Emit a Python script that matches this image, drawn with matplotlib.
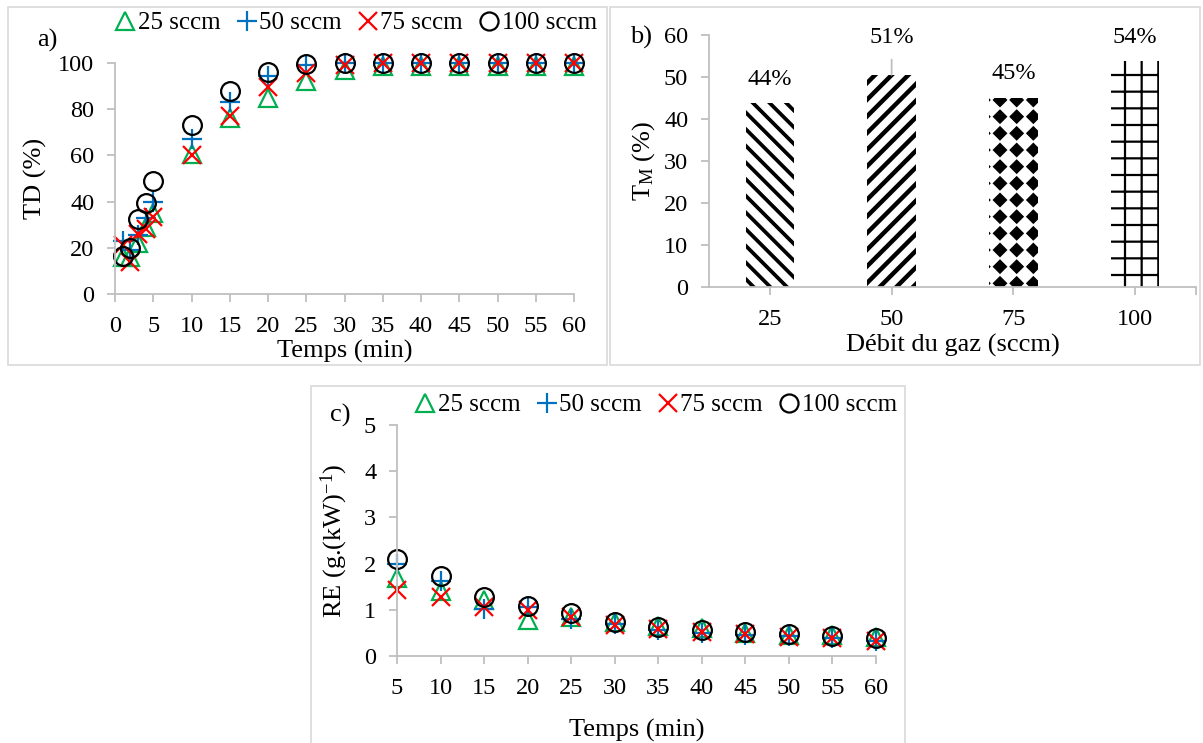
import numpy as np
import matplotlib
matplotlib.use('Agg')
import matplotlib.pyplot as plt
import matplotlib.hatch as mhatch
from matplotlib.path import Path
from matplotlib.patches import Rectangle
from matplotlib.lines import Line2D

plt.rcParams['font.family'] = ['Liberation Serif', 'DejaVu Serif']
plt.rcParams['mathtext.fontset'] = 'custom'
plt.rcParams['mathtext.rm'] = 'Liberation Serif'
plt.rcParams['mathtext.it'] = 'Liberation Serif:italic'
plt.rcParams['hatch.linewidth'] = 3.0

# ---- data ----
t_a = [1, 2, 3, 4, 5, 10, 15, 20, 25, 30, 35, 40, 45, 50, 55, 60]
td_25 = [16, 16, 22, 29, 35, 60.5, 76, 85, 92, 97, 98.5, 98.5, 98.5, 98.5, 98.5, 98.5]
td_50 = [23, 19, 25.5, 33, 40, 67, 83, 94.5, 99, 100, 100, 100, 100, 100, 100, 100]
td_75 = [21, 14, 26, 28, 33.5, 60, 77, 89.5, 95.5, 99, 100, 100, 100, 100, 100, 100]
td_100 = [16.5, 20, 32.5, 39.5, 49, 73, 88, 96, 99.5, 100, 100, 100, 100, 100, 100, 100]

debit = ['25', '50', '75', '100']
tm = [43.8, 50.5, 45.1, 53.8]
tm_labels = ['44%', '51%', '45%', '54%']

t_c = [5, 10, 15, 20, 25, 30, 35, 40, 45, 50, 55, 60]
re_25 = [1.68, 1.4, 1.22, 0.77, 0.85, 0.74, 0.65, 0.6, 0.5, 0.45, 0.45, 0.42]
re_50 = [2.0, 1.62, 1.02, 1.05, 0.8, 0.7, 0.56, 0.5, 0.46, 0.43, 0.38, 0.33]
re_75 = [1.43, 1.27, 1.05, 1.0, 0.84, 0.67, 0.58, 0.52, 0.47, 0.42, 0.38, 0.32]
re_100 = [2.1, 1.74, 1.27, 1.09, 0.92, 0.73, 0.63, 0.56, 0.51, 0.48, 0.43, 0.38]

series_labels = ['25 sccm', '50 sccm', '75 sccm', '100 sccm']


# filled diamonds on a square grid, used in place of the '*' hatch
class DiamondGrid(mhatch.HatchPatternBase):
    def __init__(self, hatch, density):
        self.num_rows = hatch.count('*') * density
        if self.num_rows:
            self.num_vertices = (self.num_rows + 1) ** 2 * 5
        else:
            self.num_vertices = 0

    def set_vertices_and_codes(self, vertices, codes):
        n = self.num_rows
        step = 1.0 / n
        r = step * 0.40
        shape = np.array([[0, r], [r, 0], [0, -r], [-r, 0], [0, r]])
        k = 0
        for i in range(n + 1):
            for j in range(n + 1):
                vertices[k:k + 5] = shape + [j * step, i * step]
                codes[k:k + 5] = [Path.MOVETO, Path.LINETO, Path.LINETO,
                                  Path.LINETO, Path.CLOSEPOLY]
                k += 5


mhatch._hatch_types = [DiamondGrid if h is mhatch.Stars else h
                       for h in mhatch._hatch_types]

GRAY = '#bfbfbf'
GREEN = '#00b050'
BLUE = '#0070c0'
RED = '#ff0000'

W, H = 1203, 743
fig = plt.figure(figsize=(W / 100, H / 100), dpi=100)


def fx(x):
    return x / W


def fy(y):
    return 1 - y / H


def box(x0, y0, x1, y1):
    fig.add_artist(Rectangle((fx(x0), fy(y1)), fx(x1 - x0), (y1 - y0) / H,
                             transform=fig.transFigure, fill=False,
                             edgecolor='#d9d9d9', lw=1.2))


def axes_at(x0, y0, x1, y1):
    return fig.add_axes([fx(x0), fy(y1), fx(x1 - x0), (y1 - y0) / H])


def style(ax):
    for s in ['top', 'right']:
        ax.spines[s].set_visible(False)
    for s in ['left', 'bottom']:
        ax.spines[s].set_color(GRAY)
        ax.spines[s].set_linewidth(1.3)
    ax.tick_params(axis='both', which='both', colors=GRAY, labelcolor='black',
                   labelsize=17.5, length=6, width=1.3, direction='out')
    ax.tick_params(axis='y', pad=9)
    ax.tick_params(axis='x', which='both', pad=10)


def scatter_series(ax, x, ys):
    ax.plot(x, ys[0], ls='none', marker='^', ms=13, mfc='none', mec=GREEN, mew=1.6, clip_on=False)
    ax.plot(x, ys[1], ls='none', marker='+', ms=15, mec=BLUE, mew=1.6, clip_on=False)
    ax.plot(x, ys[2], ls='none', marker='x', ms=13, mec=RED, mew=1.6, clip_on=False)
    ax.plot(x, ys[3], ls='none', marker='o', ms=13.5, mfc='none', mec='black', mew=1.6, clip_on=False)


def legend_handles():
    return [
        Line2D([], [], ls='none', marker='^', ms=13, mfc='none', mec=GREEN, mew=1.6),
        Line2D([], [], ls='none', marker='+', ms=15, mec=BLUE, mew=1.6),
        Line2D([], [], ls='none', marker='x', ms=13, mec=RED, mew=1.6),
        Line2D([], [], ls='none', marker='o', ms=13, mfc='none', mec='black', mew=1.6),
    ]


def add_legend(ax, cx, cy):
    ax.legend(legend_handles(), series_labels, ncol=4, frameon=False, fontsize=18,
              handlelength=0.8, handletextpad=0.1, columnspacing=0.65,
              loc='center', bbox_to_anchor=(fx(cx), fy(cy)),
              bbox_transform=fig.transFigure, borderpad=0)


# ---- panel a ----
box(8, 7, 607, 365)
ax1 = axes_at(115, 63, 574, 294)
scatter_series(ax1, t_a, [td_25, td_50, td_75, td_100])
ax1.set_xlim(0, 60)
ax1.set_ylim(0, 100)
ax1.set_xticks(range(0, 61, 5))
ax1.set_yticks(range(0, 101, 20))
style(ax1)
ax1.set_xlabel('Temps (min)', fontsize=19, labelpad=2)
ax1.set_ylabel('TD (%)', fontsize=19, labelpad=8)
add_legend(ax1, 356, 23)
fig.text(fx(47), fy(40), 'a)', fontsize=19, ha='center', va='center')

# ---- panel b ----
box(610, 7, 1200, 365)
ax2 = axes_at(709, 35, 1196, 287)
hatches = ['\\\\', '//', '*', '+']
hatch_lw = [2.7, 3.2, 0.8, 1.6]
xb = np.arange(len(debit))
bars = ax2.bar(xb, tm, width=0.4, color='white', edgecolor='black', linewidth=0)
for b, h, lw in zip(bars, hatches, hatch_lw):
    b.set_hatch(h)
    if hasattr(b, 'set_hatch_linewidth'):
        b.set_hatch_linewidth(lw)
ax2.set_xlim(-0.5, 3.5)
ax2.set_ylim(0, 60)
ax2.set_xticks(xb)
ax2.set_xticklabels(debit)
ax2.set_xticks([3.5], minor=True)
ax2.set_yticks(range(0, 61, 10))
style(ax2)
ax2.set_xlabel('Débit du gaz (sccm)', fontsize=19, labelpad=3)
ax2.set_ylabel(r'T$_\mathrm{M}$ (%)', fontsize=19, labelpad=5)
for i, (v, lab) in enumerate(zip(tm, tm_labels)):
    if i == 1:
        ax2.annotate(lab, xy=(i, v), xytext=(i, 59.3), ha='center', va='center',
                     fontsize=17.5,
                     arrowprops=dict(arrowstyle='-', color=GRAY, lw=1.3,
                                     shrinkA=6, shrinkB=0))
    else:
        ax2.text(i, v + 5.7, lab, ha='center', va='center', fontsize=17.5)
fig.text(fx(641), fy(37), 'b)', fontsize=19, ha='center', va='center')

# ---- panel c ----
box(311, 386, 905, 745)
ax3 = axes_at(397, 425, 876, 656)
scatter_series(ax3, t_c, [re_25, re_50, re_75, re_100])
ax3.set_xlim(5, 60)
ax3.set_ylim(0, 5)
ax3.set_xticks(t_c)
ax3.set_yticks(range(0, 6))
style(ax3)
ax3.set_xlabel('Temps (min)', fontsize=19, labelpad=14)
ax3.set_ylabel(r'RE (g.(kW)$^{-1}$)', fontsize=19, labelpad=10)
add_legend(ax3, 656, 405)
fig.text(fx(340), fy(415), 'c)', fontsize=19, ha='center', va='center')

fig.savefig('out.png', dpi=100)
